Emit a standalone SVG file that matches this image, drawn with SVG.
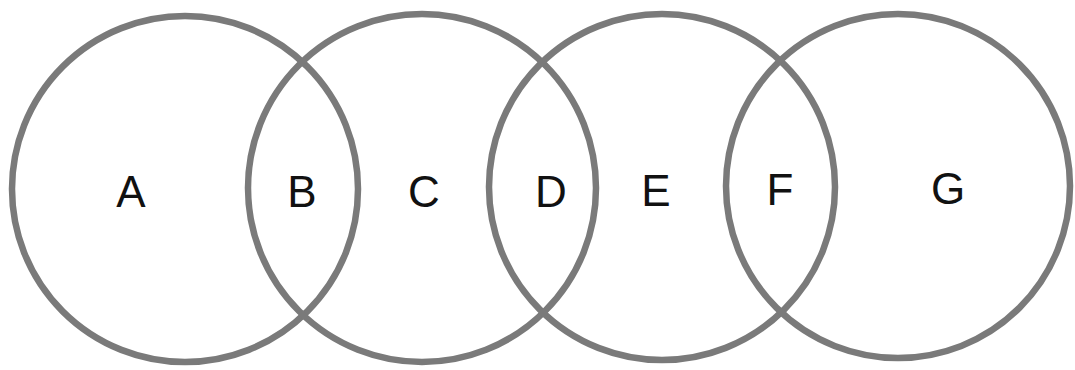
<svg xmlns="http://www.w3.org/2000/svg" width="1075" height="370" viewBox="0 0 1075 370">
<style>
.ring{fill:none;stroke:#7a7a7a;stroke-width:6.5}
.lbl{font-family:"Liberation Sans","DejaVu Sans",sans-serif;font-size:44px;fill:#111;text-anchor:middle}
</style>
<rect width="1075" height="370" fill="#ffffff"/>
<g id="circle-1"><circle class="ring" cx="185" cy="189" r="173"/></g>
<g id="circle-2"><circle class="ring" cx="422" cy="188" r="174"/></g>
<g id="circle-3"><circle class="ring" cx="662" cy="187" r="173"/></g>
<g id="circle-4"><circle class="ring" cx="898" cy="186" r="172"/></g>
<g id="labels">
<text class="lbl" x="131" y="207">A</text>
<text class="lbl" x="302" y="207">B</text>
<text class="lbl" x="424" y="207">C</text>
<text class="lbl" x="551" y="207">D</text>
<text class="lbl" x="656" y="206">E</text>
<text class="lbl" x="780" y="205">F</text>
<text class="lbl" x="948" y="204">G</text>
</g>
</svg>
